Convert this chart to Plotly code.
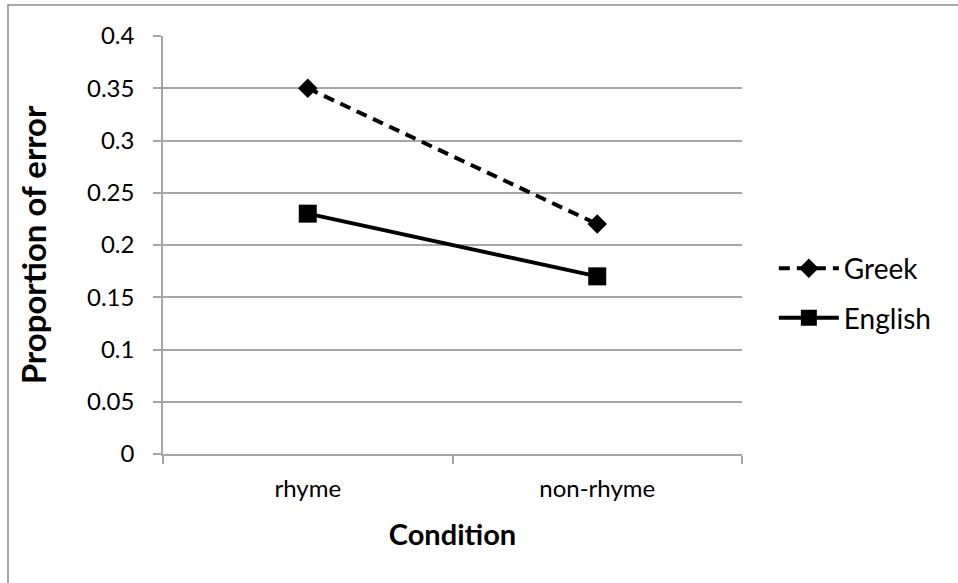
import plotly.graph_objects as go

conditions = ["rhyme", "non-rhyme"]
greek = [0.35, 0.22]
english = [0.23, 0.17]
y_ticks = [0, 0.05, 0.1, 0.15, 0.2, 0.25, 0.3, 0.35, 0.4]
y_tick_text = ["0", "0.05", "0.1", "0.15", "0.2", "0.25", "0.3", "0.35", "0.4"]

FONT = "Lato, Carlito, Calibri, sans-serif"
GRID = "#a6a6a6"

fig = go.Figure()
fig.add_trace(go.Scatter(
    x=conditions, y=greek, name="Greek", mode="lines+markers",
    legendgroup="g",
    line=dict(color="black", width=4, dash="11px,7px"),
    marker=dict(symbol="diamond", size=15, color="black"),
))
fig.add_trace(go.Scatter(
    x=conditions, y=english, name="English", mode="lines+markers",
    legendgroup="e",
    line=dict(color="black", width=4),
    marker=dict(symbol="square", size=18, color="black"),
))

fig.update_layout(
    width=958, height=583,
    margin=dict(l=163, r=216, t=36, b=129),
    paper_bgcolor="white", plot_bgcolor="white",
    font=dict(family=FONT, size=24, color="black"),
    showlegend=True,
    legend=dict(
        x=1.055, y=0.385, xanchor="left", yanchor="middle",
        font=dict(family=FONT, size=28, color="black"),
        itemwidth=60, tracegroupgap=10,
        bgcolor="rgba(0,0,0,0)",
    ),
    xaxis=dict(
        type="category", range=[-0.5, 1.5],
        showline=True, linecolor=GRID, linewidth=1.5,
        ticks="outside", tickson="boundaries", ticklen=8,
        tickcolor=GRID, tickwidth=1.5,
        showgrid=False, zeroline=False,
        tickfont=dict(family=FONT, size=24, color="black"),
        ticklabelstandoff=12,
        title=dict(text="<b>Condition</b>", standoff=24,
                   font=dict(family=FONT, size=29, color="black")),
    ),
    yaxis=dict(
        range=[0, 0.4], tickvals=y_ticks, ticktext=y_tick_text,
        showline=True, linecolor=GRID, linewidth=1.5,
        ticks="outside", ticklen=8, tickcolor=GRID, tickwidth=1.5,
        showgrid=True, gridcolor=GRID, gridwidth=1.5,
        zeroline=False,
        tickfont=dict(family=FONT, size=24, color="black"),
        ticklabelstandoff=14,
        title=dict(text="<b>Proportion of error</b>", standoff=30,
                   font=dict(family=FONT, size=33, color="black")),
    ),
    shapes=[dict(
        type="rect", xref="paper", yref="paper",
        x0=(8 - 163) / 579, x1=(1000 - 163) / 579,
        y0=(454 - 700) / 418, y1=(454 - 5) / 418,
        line=dict(color="#8c8c8c", width=1.5), layer="below",
    )],
)

fig.write_html("out.html")
